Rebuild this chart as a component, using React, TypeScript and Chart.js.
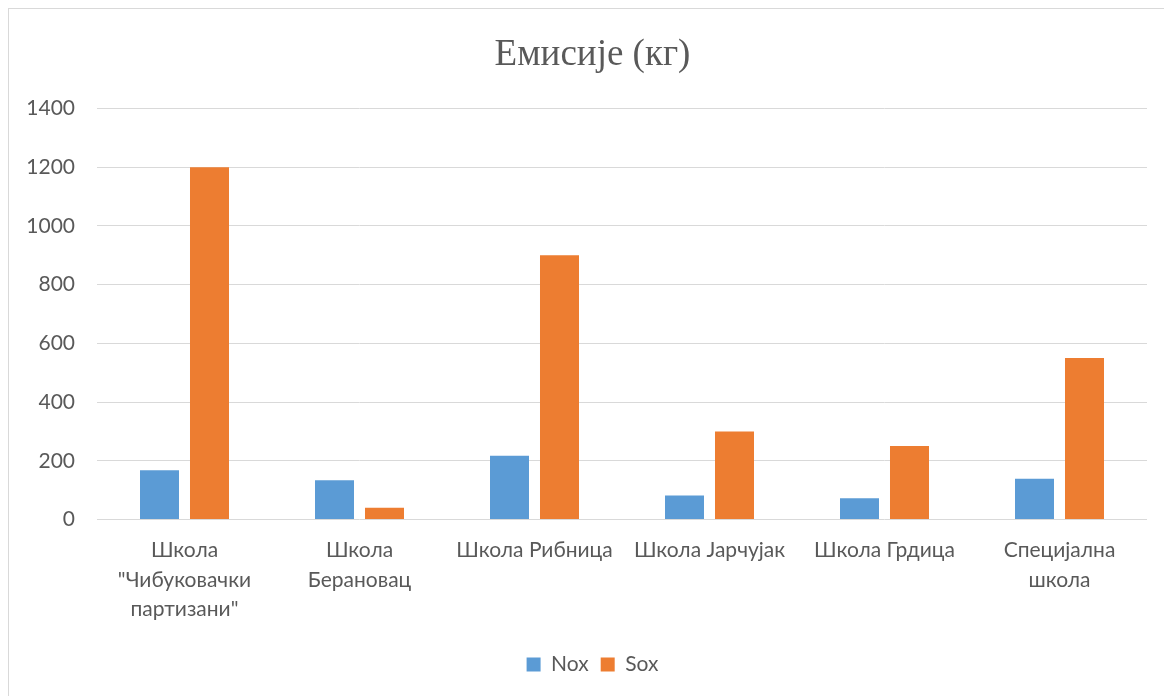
import React, { useEffect, useRef } from "react";
import { Chart, registerables } from "chart.js";

Chart.register(...registerables);

// School names, wrapped onto lines as they appear under the axis
const schools: string[][] = [
  ["Школа", "\"Чибуковачки", "партизани\""],
  ["Школа", "Берановац"],
  ["Школа Рибница"],
  ["Школа Јарчујак"],
  ["Школа Грдица"],
  ["Специјална", "школа"],
];

// Emissions per school, in kilograms
const noxValues: number[] = [168, 134, 217, 82, 72, 139];
const soxValues: number[] = [1200, 40, 900, 300, 250, 550];

const seriesNames: string[] = ["Nox", "Sox"];
const chartTitle = "Емисије (кг)";

const TEXT = "#595959";
const GRID = "#d9d9d9";
const SANS = "Lato, 'Open Sans', sans-serif";

export default function App() {
  const canvasRef = useRef<HTMLCanvasElement | null>(null);

  useEffect(() => {
    const canvas = canvasRef.current;
    if (!canvas) return;
    const chart = new Chart(canvas, {
      type: "bar",
      data: {
        labels: schools,
        datasets: [
          {
            label: seriesNames[0],
            data: noxValues,
            backgroundColor: "#5B9BD5",
            categoryPercentage: 0.5714,
            barPercentage: 0.78,
          },
          {
            label: seriesNames[1],
            data: soxValues,
            backgroundColor: "#ED7D31",
            categoryPercentage: 0.5714,
            barPercentage: 0.78,
          },
        ],
      },
      options: {
        animation: false,
        responsive: true,
        maintainAspectRatio: false,
        layout: { padding: { left: 0, right: 0, top: 0, bottom: 11 } },
        plugins: {
          title: {
            display: true,
            text: chartTitle,
            color: TEXT,
            font: { family: "'Liberation Serif', 'Times New Roman', serif", size: 37, weight: "normal", lineHeight: 1.2 },
            padding: { top: 24, bottom: 31 },
          },
          legend: {
            display: true,
            position: "bottom",
            labels: {
              color: TEXT,
              boxWidth: 14,
              boxHeight: 14,
              padding: 12,
              font: { family: SANS, size: 21 },
            },
          },
          tooltip: { enabled: false },
        },
        scales: {
          x: {
            grid: { display: false, drawTicks: false },
            border: { display: false },
            ticks: {
              color: TEXT,
              font: { family: SANS, size: 21, lineHeight: 1.405 },
              padding: 16,
              maxRotation: 0,
              autoSkip: false,
            },
            afterFit: (scale: any) => {
              scale.height = scale.height + 2;
            },
          },
          y: {
            min: 0,
            max: 1400,
            grid: { color: GRID, lineWidth: 1, drawTicks: false },
            border: { display: false },
            ticks: {
              stepSize: 200,
              color: TEXT,
              font: { family: SANS, size: 21 },
              padding: 22,
              callback: (value: any) => String(value),
            },
            afterFit: (scale: any) => {
              scale.width = 88;
            },
          },
          // empty right-hand margin beside the plot
          margin: {
            position: "right",
            grid: { display: false, drawTicks: false },
            border: { display: false },
            ticks: { display: false },
            afterFit: (scale: any) => {
              scale.width = 29;
            },
          },
        },
      },
    });
    return () => chart.destroy();
  }, []);

  return (
    <div
      style={{
        position: "fixed",
        left: 8,
        top: 8,
        right: 0,
        bottom: 0,
        overflow: "hidden",
        borderTop: `1px solid ${GRID}`,
        borderLeft: `1px solid ${GRID}`,
        background: "#fff",
      }}
    >
      <div style={{ position: "relative", width: 1167, height: 687 }}>
        <canvas ref={canvasRef} />
      </div>
    </div>
  );
}
